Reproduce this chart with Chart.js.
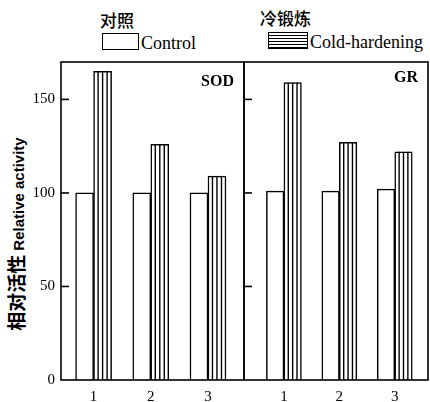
<!DOCTYPE html>
<html>
<head>
<meta charset="utf-8">
<script src="https://cdn.jsdelivr.net/npm/chart.js@4.4.1/dist/chart.umd.min.js"></script>
<style>
  html, body { margin:0; padding:0; background:#fff; }
  body { width:430px; height:402px; position:relative; overflow:hidden; }
  .abs { position:absolute; white-space:nowrap; color:#000; }
  .cn { font-family:"Noto Sans CJK SC"; font-weight:500; font-size:17px; line-height:1; }
  .en { font-family:"Liberation Serif"; font-size:18px; line-height:1; }
  .box { position:absolute; border:1.5px solid #000; box-sizing:border-box; background:#fff; }
</style>
</head>
<body>
<script>
// ---- data ----
const categories = [1, 2, 3];
const yTicks = [0, 50, 100, 150];
const sodControl = [100, 100, 100];
const sodCold = [165, 126, 109];
const grControl = [101, 101, 102];
const grCold = [159, 127, 122];
const seriesNames = ['Control', 'Cold-hardening'];
const seriesNamesCn = ['对照', '冷锻炼'];
const panelNames = ['SOD', 'GR'];
const yTitleCn = '相对活性';
const yTitleEn = 'Relative activity';
</script>

<div class="abs cn" style="left:100px;top:11px;">对照</div>
<div class="abs cn" style="left:260px;top:9px;">冷锻炼</div>
<div class="box" style="left:102px;top:33px;width:37px;height:17px;"></div>
<div class="abs en" style="left:141px;top:34px;">Control</div>
<div class="box" style="left:268px;top:32px;width:40px;height:17px;background:repeating-linear-gradient(to bottom,#fff 0px,#fff 1.6px,#000 1.6px,#000 3px);"></div>
<div class="abs en" style="left:310px;top:33px;">Cold-hardening</div>

<div class="abs" style="left:15px;top:234px;transform:translate(-50%,-50%) rotate(-90deg);">
  <span style="font-family:'Noto Sans CJK SC';font-weight:700;font-size:19px;">相对活性</span>
  <span style="font-family:'Liberation Sans';font-weight:700;font-size:15px;">Relative activity</span>
</div>

<div style="position:absolute;left:0;top:0;width:246px;height:402px;"><canvas id="c1" width="246" height="402"></canvas></div>
<div style="position:absolute;left:243px;top:0;width:187px;height:402px;"><canvas id="c2" width="187" height="402"></canvas></div>

<script>
const toXY = arr => arr.map((v, i) => ({x: categories[i], y: v}));

const framePlugin = {
  id: 'frame',
  afterDatasetsDraw(chart, args, opts) {
    const ctx = chart.ctx;
    const a = chart.chartArea;
    const yS = chart.scales.y;
    const meta = chart.getDatasetMeta(1);
    ctx.save();
    ctx.strokeStyle = '#000';
    ctx.lineWidth = 1.4;
    meta.data.forEach(bar => {
      const p = bar.getProps(['x', 'y', 'base', 'width'], true);
      const left = p.x - p.width / 2;
      for (let k = 1; k <= 3; k++) {
        const xx = left + p.width * k / 4;
        ctx.beginPath();
        ctx.moveTo(xx, p.y);
        ctx.lineTo(xx, p.base);
        ctx.stroke();
      }
    });
    ctx.lineWidth = 1.6;
    ctx.strokeRect(a.left, a.top, a.right - a.left, a.bottom - a.top);
    yTicks.forEach(v => {
      if (v === 0) return;
      const yy = yS.getPixelForValue(v);
      ctx.beginPath();
      ctx.moveTo(a.left, yy);
      ctx.lineTo(a.left + 8, yy);
      ctx.stroke();
    });
    ctx.fillStyle = '#000';
    ctx.font = 'bold 16px "Liberation Serif"';
    ctx.textAlign = 'right';
    ctx.textBaseline = 'alphabetic';
    ctx.fillText(opts.label, a.right - opts.labelRight, opts.labelY);
    ctx.restore();
  }
};

function makeChart(id, control, cold, o) {
  return new Chart(document.getElementById(id), {
    type: 'bar',
    data: {
      datasets: [
        { label: seriesNames[0], data: toXY(control), backgroundColor: '#fff', borderColor: '#000', borderWidth: 1.5, barThickness: o.barW },
        { label: seriesNames[1], data: toXY(cold), backgroundColor: '#fff', borderColor: '#000', borderWidth: 1.5, barThickness: o.barW }
      ]
    },
    options: {
      responsive: false,
      animation: false,
      layout: { padding: { top: 62, right: 2, left: o.padLeft, bottom: 0 } },
      plugins: {
        legend: { display: false },
        tooltip: { enabled: false },
        frame: { label: o.label, labelRight: o.labelRight, labelY: o.labelY }
      },
      scales: {
        x: {
          type: 'linear',
          offset: false,
          min: o.xmin, max: o.xmax,
          grid: { display: false, drawTicks: false },
          border: { display: false },
          afterBuildTicks: s => { s.ticks = categories.map(v => ({ value: v })); },
          afterFit: s => { s.height = 22; },
          ticks: { color: '#000', padding: 8, font: { family: 'Liberation Serif', size: 15 } }
        },
        y: {
          display: o.showY,
          min: 0, max: 170,
          grid: { display: false, drawTicks: false },
          border: { display: false },
          afterBuildTicks: s => { s.ticks = yTicks.map(v => ({ value: v })); },
          afterFit: s => { s.width = o.showY ? 61 : 0; },
          ticks: { color: '#000', padding: 6, font: { family: 'Liberation Serif', size: 15 } }
        }
      }
    },
    plugins: [framePlugin]
  });
}

makeChart('c1', sodControl, sodCold, { barW: 18, xmin: 0.43, xmax: 3.63, showY: true, padLeft: 0, label: panelNames[0], labelRight: 10, labelY: 86 });
makeChart('c2', grControl, grCold, { barW: 17.5, xmin: 0.28, xmax: 3.6, showY: false, padLeft: 1, label: panelNames[1], labelRight: 10, labelY: 82 });
</script>
</body>
</html>
